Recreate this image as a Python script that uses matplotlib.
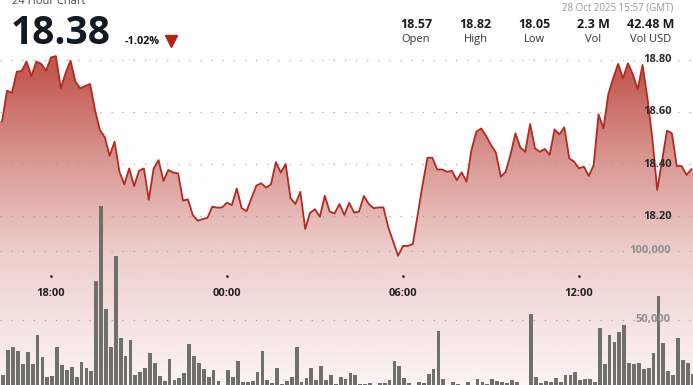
import numpy as np
import matplotlib
matplotlib.use("Agg")
import matplotlib.pyplot as plt
from matplotlib.patches import Polygon

plt.rcParams['font.family'] = ['Open Sans', 'DejaVu Sans']

# price, one point every 10 minutes from 27 Oct 16:20 to 28 Oct 15:50
price = [18.565, 18.682, 18.674, 18.755, 18.758, 18.794, 18.738, 18.794, 18.785, 18.759,
         18.81, 18.815, 18.691, 18.751, 18.797, 18.717, 18.691, 18.70, 18.708, 18.608,
         18.531, 18.503, 18.431, 18.486, 18.37, 18.322, 18.383, 18.315, 18.374, 18.383,
         18.262, 18.383, 18.415, 18.335, 18.377, 18.367, 18.364, 18.259, 18.264, 18.204,
         18.182, 18.188, 18.193, 18.236, 18.232, 18.233, 18.251, 18.242, 18.306, 18.23,
         18.219, 18.268, 18.317, 18.326, 18.309, 18.322, 18.407, 18.367, 18.40, 18.268,
         18.246, 18.293, 18.15, 18.213, 18.226, 18.197, 18.278, 18.217, 18.21, 18.246,
         18.204, 18.251, 18.213, 18.217, 18.277, 18.246, 18.23, 18.233, 18.233, 18.156,
         18.101, 18.047, 18.085, 18.085, 18.092, 18.204, 18.319, 18.424, 18.424, 18.379,
         18.379, 18.37, 18.374, 18.338, 18.368, 18.332, 18.454, 18.524, 18.537, 18.508,
         18.473, 18.444, 18.351, 18.37, 18.437, 18.518, 18.464, 18.447, 18.554, 18.46,
         18.447, 18.458, 18.435, 18.533, 18.514, 18.541, 18.422, 18.409, 18.383, 18.39,
         18.354, 18.396, 18.591, 18.537, 18.669, 18.73, 18.785, 18.73, 18.787, 18.746,
         18.687, 18.781, 18.653, 18.499, 18.30, 18.413, 18.528, 18.518, 18.392, 18.392,
         18.358, 18.38]

# volume per 10 minute bucket, first bucket just before the first price point
volume = [16000,
          9300, 27700, 30100, 26800, 17500, 26000, 17500, 38700, 22900, 8300,
          8800, 30100, 16800, 13100, 15100, 7800, 19000, 14400, 12400, 78300,
          132800, 57400, 30100, 96400, 36500, 23600, 35000, 9500, 11900, 14400,
          25800, 18000, 8800, 5100, 20900, 5800, 7500, 11200, 32100, 23400,
          18500, 13600, 7800, 13100, 5300, 2000, 13100, 7800, 19500,
          4400, 4400, 5100, 11700, 26800, 5800, 3600, 14400, 2700, 5100,
          8000, 29700, 4100, 7500, 14600, 5800, 16000, 5800, 9500, 2700,
          8000, 6600, 10700, 9500, 2900, 2900, 3400, 1000, 3900, 3400,
          5800, 19700, 16000, 7300, 3400, 1000, 4400, 3400, 10000, 13900,
          41800, 6400, 1000, 4400, 3100, 1000, 4100,
          800, 6300, 4400, 2900, 6800, 5300, 4600, 3400, 5800, 4100,
          1500, 800, 54000, 8300, 3400, 4900, 4400, 7300, 4600, 9700,
          9300, 11700, 5800, 6800, 6800, 4400, 43800, 17300, 38500, 33400,
          40700, 46000, 18500, 17500, 18000, 13600, 14600, 25300, 67200, 32600,
          12200, 9700, 36300, 20200, 18000, 10200]

tick_hours = [18, 24, 30, 36]
tick_labels = ["18:00", "00:00", "06:00", "12:00"]
price_ticks = [18.20, 18.40, 18.60, 18.80]
vol_ticks = [50000, 100000]
vol_labels = ["50,000", "100,000"]

stat_values = ["18.57", "18.82", "18.05", "2.3 M", "42.48 M"]
stat_names = ["Open", "High", "Low", "Vol", "Vol USD"]

W, H = 693, 385
fig = plt.figure(figsize=(W / 100, H / 100), dpi=100)

def fx(x):
    return x / W

def fy(y):
    return 1 - y / H

# hours since 27 Oct 00:00
t = 16 + 20 / 60 + np.arange(len(price)) / 6
tv = 16 + 12.5 / 60 + np.arange(len(volume)) / 6

px_per_hour = 176 / 6
xl = 18 - 51 / px_per_hour
xr = xl + W / px_per_hour
p_lim = (18.80 - 325 / 260, 18.80 + 60 / 260)
v_lim = (3 / 68.5 * 50000, 388 / 68.5 * 50000)

ax_bg = fig.add_axes([0, 0, 1, 1])
ax_vol = fig.add_axes([0, 0, 1, 1], label="vol")
ax_top = fig.add_axes([0, 0, 1, 1], label="line")
for a in (ax_bg, ax_top):
    a.set_xlim(xl, xr)
    a.set_ylim(*p_lim)
    a.axis("off")
ax_vol.set_xlim(xl, xr)
ax_vol.set_ylim(*v_lim)
ax_vol.axis("off")
ax_vol.patch.set_visible(False)
ax_top.patch.set_visible(False)

# gradient area under the price line
ypx = np.arange(H) + 0.5
alpha = np.interp(ypx, [0, 80, 160, 251, 380, 385], [0.92, 0.78, 0.5, 0.24, 0.06, 0.05])
img = np.zeros((H, 1, 4))
img[:, 0, 0] = 180 / 255
img[:, 0, 1] = 48 / 255
img[:, 0, 2] = 38 / 255
img[:, 0, 3] = alpha
verts = [(xl, p_lim[0]), (xl, price[0])] + list(zip(t, price)) + [(xr, price[-1]), (xr, p_lim[0])]
poly = Polygon(verts, closed=True, facecolor="none", edgecolor="none", transform=ax_bg.transData)
ax_bg.add_patch(poly)
im = ax_bg.imshow(img, extent=[xl, xr, p_lim[0], p_lim[1]], origin="upper", aspect="auto", zorder=1)
im.set_clip_path(poly)

# dotted grid
for p in price_ticks:
    ax_bg.axhline(p, color="#9c9c9c", lw=0.8, ls=(0, (1, 9)), zorder=2)
for v in vol_ticks:
    ax_vol.axhline(v, color="#9c9c9c", lw=0.8, ls=(0, (1, 9)), zorder=0)

ax_vol.bar(tv, volume, width=7.8 / 60, color="#6f6f6b", edgecolor="none", zorder=2)

ax_top.plot(t, price, color="#b22a22", lw=1.3, solid_joinstyle="round")

for p in price_ticks:
    ax_top.text(672 / W, p, f"{p:.2f}", transform=ax_top.get_yaxis_transform(),
                ha="right", va="center", fontsize=8, fontweight="bold", color="#2b2b2b")
for v, lab in zip(vol_ticks, vol_labels):
    ax_vol.text(671 / W, v, lab, transform=ax_vol.get_yaxis_transform(),
                ha="right", va="center", fontsize=8, fontweight="bold", color="#8e8e8e")

for h, lab in zip(tick_hours, tick_labels):
    ax_top.text(h, fy(293), lab, transform=ax_top.get_xaxis_transform(),
                ha="center", va="center", fontsize=8, fontweight="bold", color="#222222")
    ax_top.plot([h], [fy(276)], marker="s", ms=0.8, color="#222222",
                transform=ax_top.get_xaxis_transform())

# header
fig.text(fx(12), fy(4), "24 Hour Chart", fontsize=8, color="#444444", va="baseline")
fig.text(fx(11), fy(43.5), "18.38", fontsize=28, fontweight="bold", color="#111a22", va="baseline")
fig.text(fx(125), fy(44.3), "-1.02%", fontsize=7.8, fontweight="bold", color="#111111", va="baseline")
ax_top.plot([fx(171)], [fy(40.5)], marker="v", ms=8, color="#b52015",
            transform=fig.transFigure, clip_on=False)
fig.text(fx(673), fy(10), "28 Oct 2025 15:57 (GMT)", ha="right", va="baseline",
         fontsize=7, color="#999999")
stat_x = [416, 475.5, 534.5, 593, 651]
for x, val, name in zip(stat_x, stat_values, stat_names):
    fig.text(fx(x), fy(28.5), val, ha="center", va="baseline", fontsize=9,
             fontweight="bold", color="#1a1a1a")
    fig.text(fx(x), fy(41.7), name, ha="center", va="baseline", fontsize=8, color="#333333")

fig.savefig("out.png", dpi=100)
